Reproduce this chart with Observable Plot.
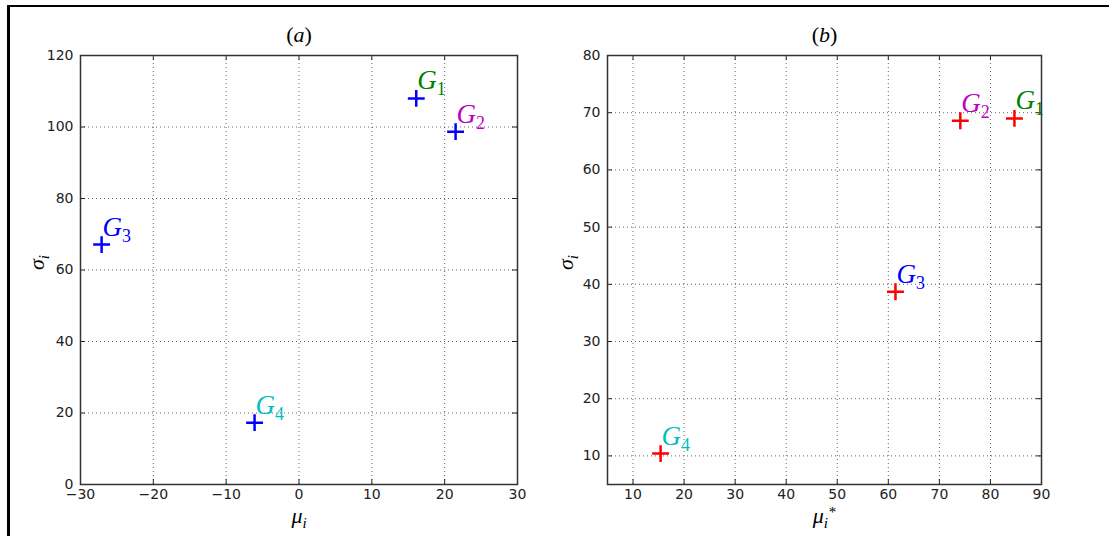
<!DOCTYPE html>
<html><head><meta charset="utf-8">
<script src="https://cdn.jsdelivr.net/npm/d3@7"></script>
<script src="https://cdn.jsdelivr.net/npm/@observablehq/plot@0.6"></script>
<style>
body{margin:0;background:#fff}
#wrap{position:relative;width:1109px;height:536px;overflow:hidden;background:#fff}
.panel{position:absolute;top:0;z-index:1}
#bt{position:absolute;left:7px;top:5px;width:1102px;height:2px;background:#000;z-index:5}
#bl{position:absolute;left:7px;top:5px;width:3px;height:531px;background:#000;z-index:5}
</style></head>
<body><div id="wrap"><div id="bt"></div><div id="bl"></div></div>
<script>
// ---- data ----
const groups = ["G1", "G2", "G3", "G4"];
const labelColors = ["#008000", "#bf00bf", "#0000ff", "#00bfbf"];
// panel (a)
const muA = [16.1, 21.5, -27.1, -6.1];
const sigmaA = [108.0, 98.7, 67.1, 17.3];
const xTicksA = [-30, -20, -10, 0, 10, 20, 30];
const yTicksA = [0, 20, 40, 60, 80, 100, 120];
// panel (b)
const muB = [84.7, 74.1, 61.4, 15.4];
const sigmaB = [69.0, 68.6, 38.7, 10.4];
const xTicksB = [10, 20, 30, 40, 50, 60, 70, 80, 90];
const yTicksB = [10, 20, 30, 40, 50, 60, 70, 80];

const H = 536, MT = 55, MB = 52;
const serif = "Liberation Serif";
const fmt = d => d < 0 ? "\u2212" + (-d) : String(d);

const richText = {
  "(a)": '(<tspan font-style="italic">a</tspan>)',
  "(b)": '(<tspan font-style="italic">b</tspan>)',
  "σi": '<tspan font-style="italic">σ</tspan><tspan font-style="italic" font-size="15" dy="5">i</tspan>',
  "μi": '<tspan font-style="italic">μ</tspan><tspan font-style="italic" font-size="15" dy="5">i</tspan>',
  "μi*": '<tspan font-style="italic">μ</tspan><tspan font-style="italic" font-size="15" dy="5">i</tspan><tspan font-size="15" dy="-11" dx="1">*</tspan>'
};
groups.forEach(g => {
  richText[g] = '<tspan font-style="italic">G</tspan><tspan font-size="18" dy="6">' + g.slice(1) + '</tspan>';
});

function panel({left, width, mL, mR, xDomain, yDomain, xTicks, yTicks, mu, sigma, markerColor, title, xLabel, yLabelDx}) {
  const plotW = width - mL - mR, plotH = H - MT - MB;
  const data = groups.map((g, i) => ({g, x: mu[i], y: sigma[i], c: labelColors[i]}));
  const gridStyle = {stroke: "#000", strokeOpacity: 0.6, strokeDasharray: "1,3", strokeWidth: 1};
  const chart = Plot.plot({
    width, height: H, marginLeft: mL, marginRight: mR, marginTop: MT, marginBottom: MB,
    x: {domain: xDomain}, y: {domain: yDomain},
    color: {type: "identity"},
    style: {fontFamily: "DejaVu Sans", fontSize: "13px", color: "#222", background: "transparent", overflow: "visible"},
    marks: [
      Plot.gridX(xTicks, gridStyle),
      Plot.gridY(yTicks, gridStyle),
      Plot.tickX(xTicks, {x: d => d, insetTop: plotH - 5, stroke: "#222"}),
      Plot.tickX(xTicks, {x: d => d, insetBottom: plotH - 5, stroke: "#222"}),
      Plot.tickY(yTicks, {y: d => d, insetRight: plotW - 5, stroke: "#222"}),
      Plot.tickY(yTicks, {y: d => d, insetLeft: plotW - 5, stroke: "#222"}),
      Plot.axisX(xTicks, {tickSize: 0, tickPadding: 5, tickFormat: fmt, label: null, fontSize: 14, fill: "#222"}),
      Plot.axisY(yTicks, {tickSize: 0, tickPadding: 7, tickFormat: fmt, label: null, fontSize: 14, fill: "#222"}),
      Plot.frame({stroke: "#333", strokeWidth: 1.5}),
      Plot.dot(data, {x: "x", y: "y", symbol: "plus", r: 5.5, stroke: markerColor, strokeWidth: 2.5}),
      Plot.text(data, {x: "x", y: "y", text: "g", fill: "c", dx: 1, dy: -9, textAnchor: "start", lineAnchor: "bottom",
        fontFamily: serif, fontSize: 27}),
      Plot.text([title], {text: d => d, frameAnchor: "top", dy: -21, lineAnchor: "middle", fontFamily: serif, fontSize: 22, fill: "#000"}),
      Plot.text([xLabel], {text: d => d, frameAnchor: "bottom", dy: 31, lineAnchor: "middle", fontFamily: serif, fontSize: 22, fill: "#000"}),
      Plot.text(["σi"], {text: d => d, frameAnchor: "left", dx: yLabelDx, rotate: -90, lineAnchor: "middle", fontFamily: serif, fontSize: 22, fill: "#000"})
    ]
  });
  d3.select(chart).selectAll("text").each(function () {
    const t = this.textContent;
    if (richText[t] && this.children.length === 0) this.innerHTML = richText[t];
  });
  chart.classList.add("panel");
  chart.style.left = left + "px";
  document.getElementById("wrap").appendChild(chart);
}

panel({left: 0, width: 555, mL: 80, mR: 38, xDomain: [-30, 30], yDomain: [0, 120],
  xTicks: xTicksA, yTicks: yTicksA, mu: muA, sigma: sigmaA, markerColor: "#0000ff",
  title: "(a)", xLabel: "μi", yLabelDx: -44});
panel({left: 555, width: 554, mL: 52, mR: 68, xDomain: [5, 90], yDomain: [5, 80],
  xTicks: xTicksB, yTicks: yTicksB, mu: muB, sigma: sigmaB, markerColor: "#ff0000",
  title: "(b)", xLabel: "μi*", yLabelDx: -42});
</script>
</body></html>
